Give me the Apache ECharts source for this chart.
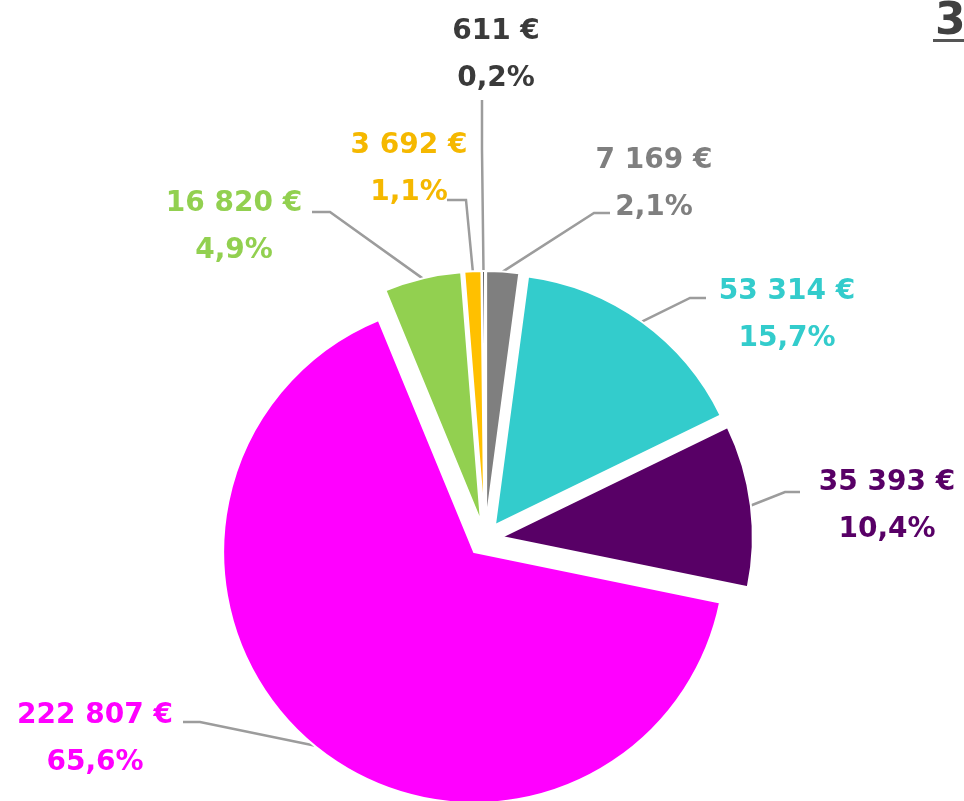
<!DOCTYPE html>
<html lang="fr">
<head>
    <meta charset="UTF-8">
    <title>Répartition</title>
    <script src="https://cdn.jsdelivr.net/npm/echarts@6.0.0/dist/echarts.min.js"></script>
    <style>
        body { margin: 0; background: #fff; }
        #chart { width: 964px; height: 801px; }
    </style>
</head>
<body>
    <div id="chart"></div>
    <script>
        // slices, clockwise from 12 o'clock
        const amounts = [7169, 53314, 35393, 222807, 16820, 3692, 611];
        const percents = ['2,1%', '15,7%', '10,4%', '65,6%', '4,9%', '1,1%', '0,2%'];
        const sliceColors = ['#7f7f7f', '#33cccc', '#580066', '#ff00ff', '#92d050', '#ffc000', '#404040'];
        const labelColors = ['#7f7f7f', '#33cccc', '#580066', '#ff00ff', '#92d050', '#f5b800', '#3a3a3a'];

        // label block centres and the label-side end of each leader line
        const labelCenters = [[654, 184], [787, 315], [887, 506], [95, 739], [234, 227], [409, 169], [496, 55]];
        const lineEnds = [
            [[594, 213], [610, 213]],
            [[690, 298], [706, 298]],
            [[785, 492], [800, 492]],
            [[200, 722], [183, 722]],
            [[330, 212], [312, 212]],
            [[466, 200], [447, 200]],
            [[482, 150], [482, 100]]
        ];

        const pieCenter = [485, 539];
        const pieRadius = 251;
        const explode = 17;

        function euro(v) {
            return String(v).replace(/\B(?=(\d{3})+(?!\d))/g, ' ') + ' €';
        }

        const total = amounts.reduce((a, b) => a + b, 0);

        // one pie per slice so each slice can be pulled out along its own bisector
        let acc = 0;
        const series = amounts.map((amt, k) => {
            const mid = (acc + amt / 2) / total * 2 * Math.PI;
            acc += amt;
            return {
                type: 'pie',
                center: [pieCenter[0] + explode * Math.sin(mid), pieCenter[1] - explode * Math.cos(mid)],
                radius: [0, pieRadius],
                startAngle: 90,
                clockwise: true,
                avoidLabelOverlap: false,
                silent: true,
                emphasis: { disabled: true },
                label: {
                    show: false,
                    fontFamily: 'DejaVu Sans',
                    fontWeight: 'bold',
                    fontSize: 28,
                    lineHeight: 47,
                    align: 'center',
                    formatter: p => euro(p.value) + '\n' + percents[p.dataIndex]
                },
                labelLine: {
                    show: false,
                    lineStyle: { color: '#9c9c9c', width: 2.5 }
                },
                labelLayout: function (params) {
                    const i = params.dataIndex;
                    const pts = params.labelLinePoints;
                    const out = {
                        x: labelCenters[i][0],
                        y: labelCenters[i][1],
                        align: 'center',
                        verticalAlign: 'middle'
                    };
                    if (pts) {
                        out.labelLinePoints = [pts[0], lineEnds[i][0], lineEnds[i][1]];
                    }
                    return out;
                },
                data: amounts.map((v, i) => i === k ? {
                    value: v,
                    itemStyle: { color: sliceColors[i], borderColor: '#fff', borderWidth: 2 },
                    label: { show: true, color: labelColors[i] },
                    labelLine: { show: true }
                } : {
                    value: v,
                    itemStyle: { color: 'rgba(0,0,0,0)', borderWidth: 0 }
                })
            };
        });

        const chart = echarts.init(document.getElementById('chart'));
        chart.setOption({
            animation: false,
            title: {
                text: '3',
                left: 930,
                top: -4,
                textStyle: { fontFamily: 'DejaVu Sans', fontSize: 44, fontWeight: 'bold', color: '#404040' }
            },
            graphic: [{
                type: 'rect',
                shape: { x: 933, y: 39, width: 31, height: 3 },
                style: { fill: '#555' }
            }],
            series: series
        });
    </script>
</body>
</html>
